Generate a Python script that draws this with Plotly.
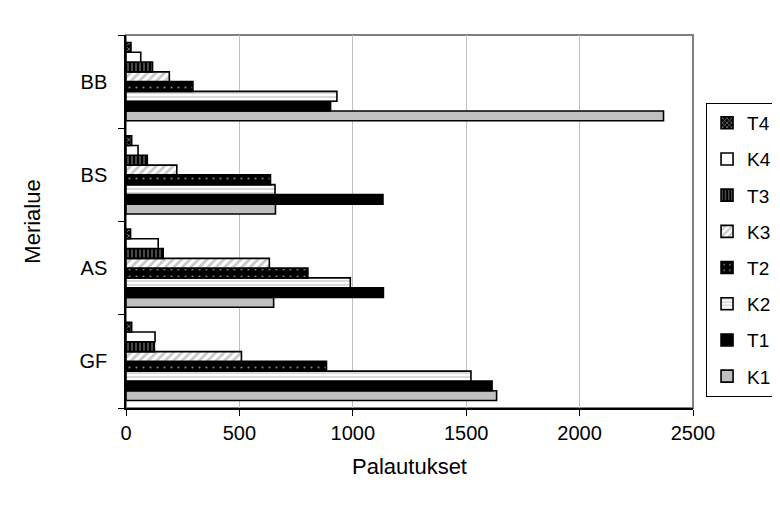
import plotly.graph_objects as go

categories = ["GF", "AS", "BS", "BB"]
series_names = ["K1", "T1", "K2", "T2", "K3", "T3", "K4", "T4"]
K1 = [1634, 651, 659, 2370]
T1 = [1614, 1135, 1133, 902]
K2 = [1521, 989, 657, 930]
T2 = [884, 802, 637, 295]
K3 = [509, 632, 224, 191]
T3 = [125, 164, 94, 117]
K4 = [128, 142, 53, 65]
T4 = [25, 20, 25, 22]
values = [K1, T1, K2, T2, K3, T3, K4, T4]
x_ticks = [0, 500, 1000, 1500, 2000, 2500]

styles = {
    "K1": dict(color="#c0c0c0"),
    "T1": dict(color="#000000"),
    "K2": dict(color="#ffffff", pattern=dict(shape="-", fgcolor="#808080", bgcolor="#ffffff", size=4, solidity=0.3, fillmode="overlay")),
    "T2": dict(color="#000000", pattern=dict(shape=".", fgcolor="#ffffff", bgcolor="#000000", size=7, solidity=0.08, fillmode="overlay")),
    "K3": dict(color="#ffffff", pattern=dict(shape="/", fgcolor="#909090", bgcolor="#ffffff", size=6, solidity=0.45, fillmode="overlay")),
    "T3": dict(color="#000000", pattern=dict(shape="|", fgcolor="#909090", bgcolor="#000000", size=4, solidity=0.5, fillmode="overlay")),
    "K4": dict(color="#ffffff"),
    "T4": dict(color="#000000", pattern=dict(shape="x", fgcolor="#ffffff", bgcolor="#000000", size=4, solidity=0.4, fillmode="overlay")),
}

fig = go.Figure()
n = len(series_names)
for i, (name, vals) in enumerate(zip(series_names, values)):
    st = styles[name]
    marker = dict(color=st["color"], line=dict(color="#000000", width=1.6))
    if "pattern" in st:
        marker["pattern"] = st["pattern"]
    fig.add_trace(go.Bar(
        y=categories, x=vals, name=name, orientation="h",
        marker=marker, legendgroup=name, legendrank=n - i,
    ))

fig.update_layout(
    width=780, height=515,
    margin=dict(l=118, r=95, t=27, b=115, autoexpand=False),
    paper_bgcolor="white", plot_bgcolor="white",
    barmode="group", bargap=0.16, bargroupgap=0,
    font=dict(family="Liberation Sans, Arial, sans-serif", color="#000000"),
    legend=dict(
        x=1.023, y=0.818, xanchor="left", yanchor="top",
        traceorder="grouped", bordercolor="#000000", borderwidth=1,
        font=dict(size=19), tracegroupgap=8.5, itemwidth=30,
    ),
    shapes=[dict(type="rect", xref="paper", yref="paper", x0=0, x1=1, y0=0, y1=1,
                 line=dict(color="#808080", width=2), layer="below")],
)
fig.update_xaxes(
    range=[0, 2500], tickvals=x_ticks, ticktext=[str(v) for v in x_ticks],
    showgrid=True, gridcolor="#c0c0c0", gridwidth=1,
    showline=True, linecolor="#000000", linewidth=1.5,
    ticks="outside", ticklen=6, tickcolor="#000000",
    tickfont=dict(size=20), zeroline=False, automargin=False,
    title=dict(text="Palautukset", font=dict(size=22), standoff=16),
)
fig.update_yaxes(
    categoryorder="array", categoryarray=categories,
    showline=True, linecolor="#000000", linewidth=1.5,
    ticks="outside", ticklen=6, tickcolor="#000000", tickson="boundaries",
    ticklabelstandoff=13,
    tickfont=dict(size=20), showgrid=False, automargin=False,
    title=dict(text="Merialue", font=dict(size=22), standoff=33),
)
fig.write_html("out.html")
